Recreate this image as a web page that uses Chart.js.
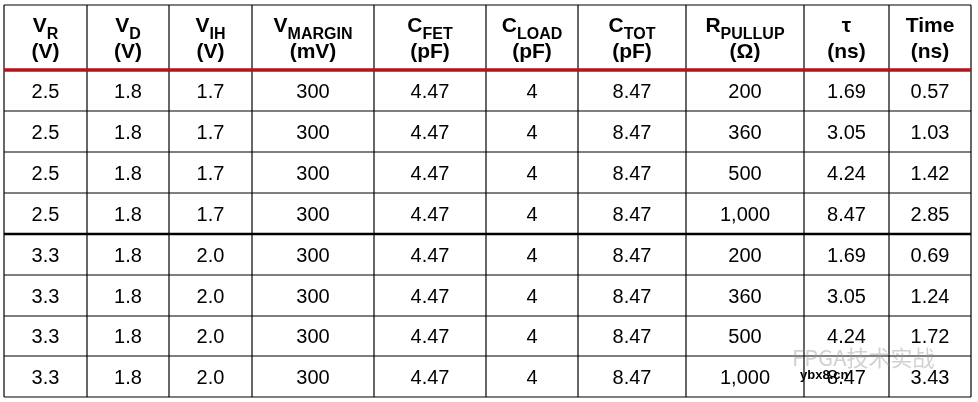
<!DOCTYPE html><html><head><meta charset="utf-8">
<script src="https://cdn.jsdelivr.net/npm/chart.js@4/dist/chart.umd.min.js"></script>
<style>html,body{margin:0;padding:0;background:#fff}#w{width:978px;height:402px}</style></head><body>
<div id="w"><canvas id="c"></canvas></div>
<script>
const headMain=["V","V","V","V","C","C","C","R","τ","Time"];
const headSub=["R","D","IH","MARGIN","FET","LOAD","TOT","PULLUP","",""];
const headUnit=["(V)","(V)","(V)","(mV)","(pF)","(pF)","(pF)","(Ω)","(ns)","(ns)"];
const colVR=["2.5","2.5","2.5","2.5","3.3","3.3","3.3","3.3"];
const colVD=["1.8","1.8","1.8","1.8","1.8","1.8","1.8","1.8"];
const colVIH=["1.7","1.7","1.7","1.7","2.0","2.0","2.0","2.0"];
const colVM=["300","300","300","300","300","300","300","300"];
const colCFET=["4.47","4.47","4.47","4.47","4.47","4.47","4.47","4.47"];
const colCLOAD=["4","4","4","4","4","4","4","4"];
const colCTOT=["8.47","8.47","8.47","8.47","8.47","8.47","8.47","8.47"];
const colR=["200","360","500","1,000","200","360","500","1,000"];
const colTau=["1.69","3.05","4.24","8.47","1.69","3.05","4.24","8.47"];
const colTime=["0.57","1.03","1.42","2.85","0.69","1.24","1.72","3.43"];
const cols=[colVR,colVD,colVIH,colVM,colCFET,colCLOAD,colCTOT,colR,colTau,colTime];
const xEdges=[4,87,169,252,374,486,578,686,804,889,971];
const yEdges=[5,70,111,152,193,234,275,316,356,397];

const tablePlugin={id:'tbl',afterDraw(ch){
 const c=ch.ctx,xs=ch.scales.x,ys=ch.scales.y;
 const X=v=>xs.getPixelForValue(v),Y=v=>ys.getPixelForValue(v);
 c.save();c.fillStyle='#fff';c.fillRect(0,0,ch.width,ch.height);
 c.strokeStyle='#000';c.lineWidth=1.2;
 xEdges.forEach(x=>{c.beginPath();c.moveTo(X(x),Y(yEdges[0]));c.lineTo(X(x),Y(yEdges[9]));c.stroke();});
 yEdges.forEach((y,i)=>{if(i==1||i==5)return;c.beginPath();c.moveTo(X(xEdges[0]),Y(y));c.lineTo(X(xEdges[10]),Y(y));c.stroke();});
 c.lineWidth=2.5;c.beginPath();c.moveTo(X(xEdges[0]),Y(yEdges[5]));c.lineTo(X(xEdges[10]),Y(yEdges[5]));c.stroke();
 c.strokeStyle='#b5121b';c.lineWidth=3.5;c.beginPath();c.moveTo(X(xEdges[0]),Y(yEdges[1]));c.lineTo(X(xEdges[10]),Y(yEdges[1]));c.stroke();
 c.fillStyle='#000';c.textBaseline='alphabetic';
 for(let i=0;i<10;i++){
  const cx=(X(xEdges[i])+X(xEdges[i+1]))/2;
  c.font='bold 21px "Liberation Sans"';const m=c.measureText(headMain[i]).width;
  c.font='bold 16px "Liberation Sans"';const s=c.measureText(headSub[i]).width;
  let x0=cx-(m+s)/2;
  c.textAlign='left';c.font='bold 21px "Liberation Sans"';c.fillText(headMain[i],x0,Y(32));
  c.font='bold 16px "Liberation Sans"';c.fillText(headSub[i],x0+m,Y(39));
  c.textAlign='center';c.font='bold 21px "Liberation Sans"';c.fillText(headUnit[i],cx,Y(58));
  c.font='20px "Liberation Sans"';
  for(let r=0;r<8;r++){c.fillText(cols[i][r],cx,(Y(yEdges[r+1])+Y(yEdges[r+2]))/2+7);}
 }
 c.globalAlpha=0.45;c.fillStyle='#999';c.font='22px "Noto Sans CJK SC"';c.textAlign='left';
 c.fillText('FPGA技术实战',X(792),Y(366));
 c.globalAlpha=1;c.fillStyle='#000';c.font='bold 13px "Liberation Sans"';c.fillText('ybx8.cn',X(800),Y(379));
 c.restore();
}};
new Chart(document.getElementById('c'),{type:'scatter',data:{datasets:[{data:[]}]},
 options:{responsive:true,maintainAspectRatio:false,animation:false,layout:{padding:0},
 plugins:{legend:{display:false},tooltip:{enabled:false}},
 scales:{x:{type:'linear',min:0,max:978,display:false},y:{type:'linear',min:0,max:402,reverse:true,display:false}}},
 plugins:[tablePlugin]});
</script></body></html>
